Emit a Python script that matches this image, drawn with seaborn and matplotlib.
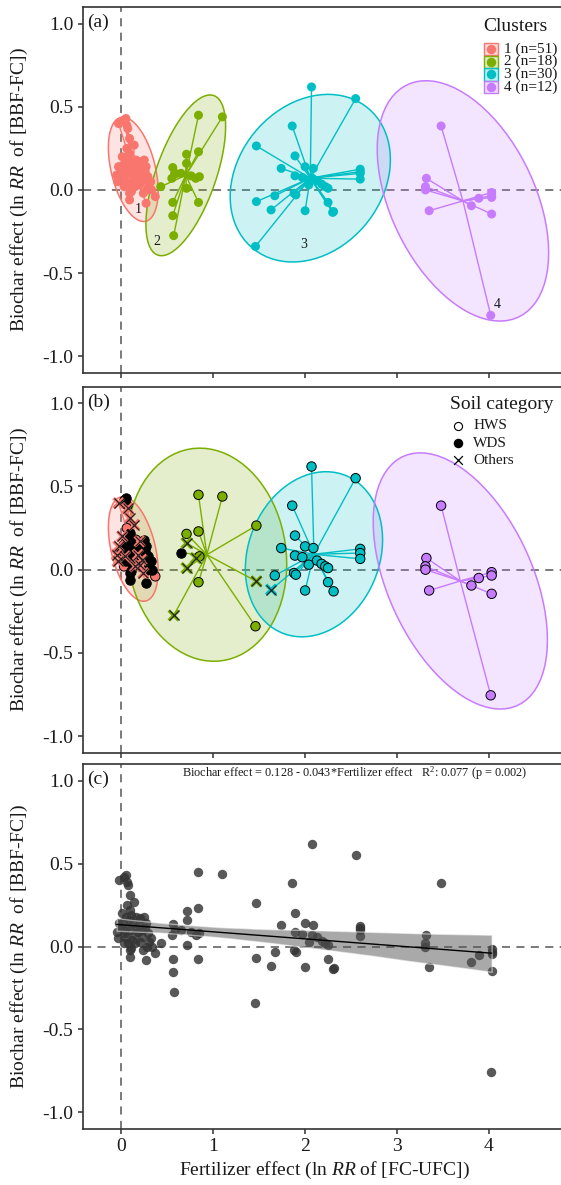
import numpy as np
import pandas as pd
import matplotlib
matplotlib.use("Agg")
import matplotlib.pyplot as plt
from matplotlib.patches import Polygon, Rectangle
import seaborn as sns

sns.set_style("ticks")
plt.rcParams['font.family'] = ['Liberation Serif', 'DejaVu Serif']
plt.rcParams['mathtext.fontset'] = 'custom'
plt.rcParams['mathtext.rm'] = 'Liberation Serif'
plt.rcParams['mathtext.it'] = 'Liberation Serif:italic'
plt.rcParams['axes.unicode_minus'] = False

# ---- data ----
# cluster 1 (n=51)
c1_fert = [-0.03, 0.03, 0.05, 0.06, 0.07, 0.09, 0.14, 0.09, 0.05, 0.11, 0.16, 0.20, 0.25,
           -0.03, -0.05, -0.04, 0.03, 0.05, 0.07, 0.09, 0.09, 0.14, 0.16, 0.19, 0.22, 0.24,
           0.27, 0.28, 0.32, 0.33, 0.37, 0.00, 0.02, 0.04, 0.06, 0.08, 0.10, 0.12, 0.13,
           0.18, 0.20, 0.26, 0.29, 0.30, 0.27, 0.11, 0.15, 0.03, 0.01, 0.06, 0.23]
c1_bio = [0.40, 0.42, 0.43, 0.39, 0.37, 0.31, 0.27, 0.22, 0.18, 0.19, 0.18, 0.17, 0.18,
          0.14, 0.09, 0.05, 0.10, 0.05, 0.02, -0.02, -0.06, 0.07, 0.12, 0.13, 0.06, -0.02,
          -0.08, 0.00, 0.05, 0.00, -0.04, 0.12, 0.15, 0.08, 0.12, 0.16, 0.10, 0.04, 0.14,
          0.09, 0.03, 0.11, 0.08, 0.03, 0.14, -0.01, 0.02, 0.02, 0.20, 0.25, 0.10]
c1_soil = ['Others', 'WDS', 'WDS', 'WDS', 'Others', 'Others', 'Others', 'WDS', 'WDS', 'WDS',
           'HWS', 'Others', 'WDS', 'Others', 'Others', 'Others', 'WDS', 'WDS', 'HWS', 'WDS',
           'WDS', 'WDS', 'WDS', 'WDS', 'Others', 'Others', 'WDS', 'WDS', 'WDS', 'WDS', 'HWS',
           'WDS', 'WDS', 'Others', 'WDS', 'WDS', 'WDS', 'WDS', 'WDS', 'Others', 'Others',
           'WDS', 'WDS', 'WDS', 'WDS', 'WDS', 'Others', 'HWS', 'Others', 'HWS', 'WDS']
c1_clb = [1] * 51

# cluster 2 (n=18)
c2_fert = [0.84, 1.10, 0.84, 0.71, 0.71, 0.65, 0.81, 0.85, 0.71, 0.84, 0.57, 0.56, 0.55,
           0.56, 0.56, 0.43, 0.76, 0.58]
c2_bio = [0.45, 0.44, 0.23, 0.215, 0.16, 0.10, 0.07, 0.08, 0.01, -0.075, -0.275, 0.135,
          0.07, -0.075, -0.155, 0.02, 0.085, 0.10]
c2_soil = ['HWS', 'HWS', 'HWS', 'HWS', 'Others', 'WDS', 'Others', 'HWS', 'Others', 'HWS',
           'Others', None, None, None, None, None, None, None]
c2_clb = [2] * 18

# cluster 3 (n=30)
c3_fert = [2.07, 2.55, 1.86, 1.47, 1.89, 1.74, 2.60, 2.60, 2.60, 1.46, 1.47, 1.63, 1.67,
           1.88, 1.90, 2.00, 2.25, 2.31, 2.00, 2.09, 1.89, 1.97, 2.04, 2.13, 2.18, 2.22,
           2.25, 2.08, 2.30, 2.60]
c3_bio = [0.62, 0.55, 0.385, 0.265, 0.205, 0.13, 0.125, 0.10, 0.065, -0.34, -0.07, -0.12,
          -0.035, -0.02, -0.03, -0.125, -0.075, -0.13, 0.14, 0.13, 0.085, 0.075, 0.03,
          0.055, 0.035, 0.02, 0.01, 0.07, -0.135, 0.11]
c3_soil = ['HWS'] * 10 + ['Others', 'Others'] + ['HWS'] * 15 + [None] * 3
c3_clb = [3, 3, 3, 2, 3, 3, 3, 3, 3, 2, 2] + [3] * 19

# cluster 4 (n=12)
c4_fert = [3.48, 3.32, 3.31, 3.31, 3.35, 4.03, 4.03, 4.03, 3.89, 3.81, 4.03, 4.02]
c4_bio = [0.385, 0.07, 0.02, 0.0, -0.125, -0.015, -0.035, -0.045, -0.05, -0.095, -0.145,
          -0.755]
c4_soil = ['HWS'] * 7 + [None] + ['HWS'] * 4
c4_clb = [4] * 12

cluster_names = ['1 (n=51)', '2 (n=18)', '3 (n=30)', '4 (n=12)']
soil_names = ['HWS', 'WDS', 'Others']
fit_text = r"Biochar effect = 0.128 - 0.043*Fertilizer effect   $\mathrm{R}^{2}$: 0.077 (p = 0.002)"

df = pd.DataFrame({
    'fert': c1_fert + c2_fert + c3_fert + c4_fert,
    'bio': c1_bio + c2_bio + c3_bio + c4_bio,
    'cl_a': [1] * 51 + [2] * 18 + [3] * 30 + [4] * 12,
    'cl_b': c1_clb + c2_clb + c3_clb + c4_clb,
    'soil': c1_soil + c2_soil + c3_soil + c4_soil,
})
df_b = df.dropna(subset=['soil'])

pal = {1: '#F8766D', 2: '#7CAE00', 3: '#00BFC4', 4: '#C77CFF'}
txt_col = '#1a1a1a'
spine_col = '#333333'


def ellipse(x, y, level=0.95, n_seg=80):
    # normal-theory confidence ellipse like ggplot's stat_ellipse(type="norm")
    x = np.asarray(x); y = np.asarray(y)
    d = len(x) - 1
    fq = d / 2 * ((1 - level) ** (-2 / d) - 1)
    r = np.sqrt(2 * fq)
    cov = np.cov(x, y)
    u = np.linalg.cholesky(cov).T
    t = np.linspace(0, 2 * np.pi, n_seg)
    circ = np.column_stack([np.cos(t), np.sin(t)])
    return circ @ u * r + np.array([x.mean(), y.mean()])


def draw_clusters(ax, data, col):
    for k, g in data.groupby(col):
        pts = ellipse(g['fert'], g['bio'])
        ax.add_patch(Polygon(pts, closed=True, facecolor=pal[k], alpha=0.2, edgecolor='none', zorder=1))
        ax.add_patch(Polygon(pts, closed=True, facecolor='none', edgecolor=pal[k], lw=1.1, zorder=2))
        cx, cy = g['fert'].mean(), g['bio'].mean()
        for xi, yi in zip(g['fert'], g['bio']):
            ax.plot([cx, xi], [cy, yi], color=pal[k], lw=1.0, zorder=3)


def style_axes(ax, tag, show_x):
    ax.set_xlim(-0.42, 4.85)
    ax.set_ylim(-1.1, 1.1)
    ax.axhline(0, color='#707070', lw=1.3, ls=(0, (4.5, 3.5)), zorder=0.5)
    ax.axvline(0, color='#707070', lw=1.3, ls=(0, (4.5, 3.5)), zorder=0.5)
    ax.set_xticks([0, 1, 2, 3, 4])
    ax.set_yticks([-1.0, -0.5, 0.0, 0.5, 1.0])
    ax.set_yticklabels(['-1.0', '-0.5', '0.0', '0.5', '1.0'])
    if show_x:
        ax.set_xticklabels(['0', '1', '2', '3', '4'])
    else:
        ax.set_xticklabels([])
    ax.tick_params(direction='out', length=3.8, width=1.1, color=spine_col,
                   labelsize=14, labelcolor=txt_col, pad=3)
    for s in ax.spines.values():
        s.set_color(spine_col)
        s.set_linewidth(1.2)
    ax.set_xlabel('')
    ax.set_ylabel(r"Biochar effect (ln $\mathit{RR}$  of [BBF-FC])", fontsize=14, color=txt_col)
    ax.yaxis.set_label_coords(-0.108, 0.5)
    ax.text(0.009, 0.958, tag, transform=ax.transAxes, fontsize=14, color=txt_col,
            ha='left', va='center')


fig = plt.figure(figsize=(5.61, 11.85), dpi=100)
ax_a = fig.add_axes([0.1474, 0.6855, 0.8633, 0.3084])
ax_b = fig.add_axes([0.1474, 0.3648, 0.8633, 0.3089])
ax_c = fig.add_axes([0.1474, 0.0473, 0.8633, 0.3078])

# ---- (a) clusters ----
draw_clusters(ax_a, df, 'cl_a')
sns.scatterplot(data=df, x='fert', y='bio', hue='cl_a', palette=pal, s=42,
                edgecolor='none', legend=False, ax=ax_a, zorder=4)
for lab, (lx, ly) in zip(['1', '2', '3', '4'], [(0.18, -0.115), (0.39, -0.31), (1.99, -0.33), (4.09, -0.69)]):
    ax_a.text(lx, ly, lab, fontsize=10, color=txt_col, ha='center', va='center', zorder=5)
style_axes(ax_a, '(a)', False)

# legend (a)
ax_a.text(0.8268, 0.946, 'Clusters', transform=ax_a.transAxes, fontsize=14,
          color=txt_col, ha='left', va='center')
for i, k in enumerate([1, 2, 3, 4]):
    yy = [0.886, 0.851, 0.816, 0.781][i]
    ax_a.add_patch(Rectangle((0.829, yy - 0.0165), 0.029, 0.033, transform=ax_a.transAxes,
                             facecolor=pal[k], alpha=0.25, edgecolor='none', zorder=6))
    ax_a.add_patch(Rectangle((0.829, yy - 0.0165), 0.029, 0.033, transform=ax_a.transAxes,
                             facecolor='none', edgecolor=pal[k], lw=1.0, zorder=6))
    ax_a.scatter([0.8435], [yy], transform=ax_a.transAxes, s=34, color=pal[k], zorder=7)
    ax_a.text(0.870, yy, cluster_names[i], transform=ax_a.transAxes, fontsize=11,
              color=txt_col, ha='left', va='center')

# ---- (b) soil category ----
draw_clusters(ax_b, df_b, 'cl_b')
hws = df_b[df_b['soil'] == 'HWS']
wds = df_b[df_b['soil'] == 'WDS']
oth = df_b[df_b['soil'] == 'Others']
sns.scatterplot(data=hws, x='fert', y='bio', hue='cl_b', palette=pal, s=46,
                edgecolor='black', linewidth=0.7, legend=False, ax=ax_b, zorder=4)
sns.scatterplot(data=wds, x='fert', y='bio', color='black', s=46,
                edgecolor='black', linewidth=0.7, legend=False, ax=ax_b, zorder=4)
ax_b.scatter(oth['fert'], oth['bio'], marker='x', s=52, c=[pal[k] for k in oth['cl_b']],
             linewidths=2.4, zorder=4)
ax_b.scatter(oth['fert'], oth['bio'], marker='x', s=52, c='#222222', linewidths=0.9, zorder=5)
style_axes(ax_b, '(b)', False)

# legend (b)
ax_b.text(0.759, 0.950, 'Soil category', transform=ax_b.transAxes, fontsize=14,
          color=txt_col, ha='left', va='center')
leg_y = [0.893, 0.846, 0.799]
ax_b.scatter([0.775], [leg_y[0]], transform=ax_b.transAxes, s=34, facecolor='white',
             edgecolor='black', linewidth=0.8, zorder=7)
ax_b.scatter([0.775], [leg_y[1]], transform=ax_b.transAxes, s=34, color='black', zorder=7)
ax_b.scatter([0.775], [leg_y[2]], transform=ax_b.transAxes, s=40, marker='x', c='black',
             linewidths=0.9, zorder=7)
for name, yy in zip(soil_names, leg_y):
    ax_b.text(0.806, yy, name, transform=ax_b.transAxes, fontsize=11, color=txt_col,
              ha='left', va='center')

# ---- (c) linear fit ----
sns.regplot(data=df, x='fert', y='bio', ax=ax_c, ci=95, seed=7, n_boot=2000,
            scatter_kws=dict(s=46, color='#333333', alpha=0.82, linewidths=0),
            line_kws=dict(color='black', linewidth=1.0))
band = ax_c.collections[-1]
band.set_facecolor('#555555')
band.set_alpha(0.5)
style_axes(ax_c, '(c)', True)
ax_c.set_xlabel(r"Fertilizer effect (ln $\mathit{RR}$ of [FC-UFC])", fontsize=14, color=txt_col)
ax_c.xaxis.set_label_coords(0.5, -0.085)
ax_c.text(0.562, 0.976, fit_text, transform=ax_c.transAxes, fontsize=8.8,
          color=txt_col, ha='center', va='center')

fig.savefig('out.png', dpi=100)
